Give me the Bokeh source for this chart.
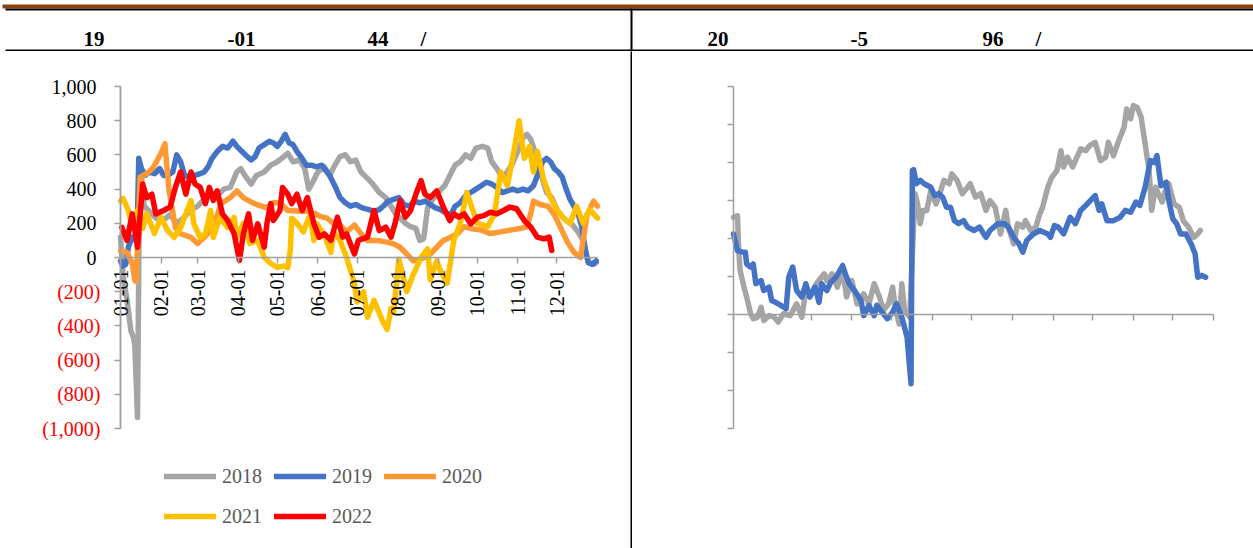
import math
from bokeh.plotting import figure
from bokeh.models import (Range1d, FixedTicker, LinearAxis, NumeralTickFormatter,
                          CustomJSTickFormatter, Legend, LegendItem)
from bokeh.layouts import column, row
from bokeh.core.properties import value
from bokeh.embed import file_html
from bokeh.resources import INLINE

FONT = "Liberation Serif"
AXIS_COLOR = "#A0A0A0"

# ---------------- header texts ----------------
HEADER_TEXT = ["19", "-01", "44", "/", "20", "-5", "96", "/"]
HEADER_X = [83, 227, 367, 420, 707, 850, 982, 1035]

# ---------------- left chart data (day of year, value) ----------------
MONTH_TICKS = [0, 31, 59, 90, 120, 151, 181, 212, 243, 273, 304, 334]
MONTH_LABELS = ["01-01", "02-01", "03-01", "04-01", "05-01", "06-01",
                "07-01", "08-01", "09-01", "10-01", "11-01", "12-01"]
Y_POS_TICKS = [0, 200, 400, 600, 800, 1000]
Y_NEG_TICKS = [-200, -400, -600, -800, -1000]

SERIES_NAMES = ["2018", "2019", "2020", "2021", "2022"]

D2018 = [0, 2, 5, 8, 10, 11, 13, 14.5, 16, 18, 22, 27, 33, 38, 43, 48, 54, 59, 64, 69, 74, 79, 84, 89, 92, 96, 100,
         104, 110, 115, 120, 125, 128, 132, 137, 141, 144, 147, 151, 156, 160, 164, 168, 172, 176, 180, 184, 188,
         193, 198, 203, 207, 211, 214, 218, 222, 226, 229, 232, 235, 238, 243, 248, 252, 256, 260, 264, 268, 272,
         277, 281, 284, 288, 292, 296, 300, 304, 308, 311, 314, 318, 322, 326, 330, 334, 338, 342, 346, 350, 354,
         358, 362, 364]
V2018 = [120, -110, -250, -430, -470, -520, -935, 400, 480, 300, 270, 230, 220, 250, 200, 230, 280, 300, 340, 380,
         360, 400, 410, 500, 520, 470, 430, 480, 500, 540, 560, 590, 610, 560, 570, 520, 400, 440, 500, 530, 480,
         540, 590, 600, 560, 570, 500, 470, 430, 380, 350, 300, 250, 230, 200, 180, 170, 100, 110, 290, 330, 380,
         420, 480, 540, 560, 600, 580, 640, 650, 640, 560, 520, 470, 500, 550, 620, 700, 720, 690, 600, 480, 380,
         350, 280, 240, 210, 190, 150, 100, -30, -40, -30]

D2019 = [0, 2, 4, 6, 9, 12, 13, 14, 16, 19, 22, 26, 30, 33, 36, 40, 43, 46, 49, 53, 57, 61, 64, 67, 70, 74, 78, 82,
         86, 89, 93, 97, 100, 103, 106, 110, 114, 117, 120, 123, 126, 129, 132, 135, 139, 142, 146, 150, 154, 157,
         160, 164, 168, 172, 176, 180, 185, 190, 194, 198, 201, 205, 209, 213, 217, 221, 225, 229, 233, 237, 241,
         245, 249, 253, 256, 260, 264, 268, 272, 276, 280, 284, 288, 292, 296, 300, 304, 308, 312, 316, 320, 323,
         326, 329, 332, 335, 338, 341, 344, 347, 350, 353, 356, 358, 361, 364]
V2019 = [-20, -50, -40, 60, 120, 100, 250, 580, 520, 480, 500, 490, 520, 480, 480, 500, 600, 560, 480, 470, 480,
         490, 500, 530, 580, 620, 650, 640, 680, 650, 620, 590, 570, 590, 640, 660, 680, 670, 650, 680, 720, 670,
         660, 620, 580, 540, 540, 530, 540, 510, 480, 420, 350, 320, 300, 310, 290, 280, 270, 280, 300, 330, 340,
         350, 310, 300, 330, 320, 330, 310, 290, 280, 260, 250, 300, 320, 360, 380, 400, 420, 440, 430, 410, 380,
         390, 400, 390, 400, 390, 420, 500, 560, 580, 560, 520, 500, 470, 400, 340, 300, 260, 180, 30, -30, -40,
         -20]

D2020 = [0, 5, 9, 11, 12, 15, 20, 25, 31, 34, 37, 42, 46, 54, 59, 64, 71, 77, 84, 89, 94, 102, 112, 117, 122, 128,
         138, 143, 148, 153, 158, 163, 168, 173, 179, 184, 189, 196, 204, 209, 214, 219, 224, 230, 237, 242, 247,
         253, 258, 263, 268, 276, 283, 291, 298, 306, 311, 314, 316, 321, 327, 332, 337, 342, 347, 352, 357, 362,
         365]
V2020 = [40, 30, -35, -135, -140, 470, 490, 525, 610, 665, 400, 175, 140, 117, 82, 117, 175, 316, 350, 390, 350,
         316, 290, 320, 320, 275, 270, 270, 260, 240, 230, 200, 190, 150, 190, 140, 100, 100, 90, 80, 60, 20, -20,
         -10, 20, 60, 100, 120, 140, 180, 170, 160, 140, 150, 160, 170, 180, 260, 330, 310, 300, 250, 170, 90, 30,
         0, 250, 330, 300]

D2021 = [0, 2, 6, 9, 13, 17, 20, 26, 31, 36, 41, 46, 51, 54, 56, 61, 65, 69, 71, 76, 82, 87, 89, 94, 99, 105, 110,
         115, 120, 125, 128, 130, 131, 135, 140, 145, 148, 150, 156, 161, 163, 168, 173, 179, 181, 186, 189, 194,
         201, 204, 207, 209, 213, 219, 224, 230, 235, 237, 242, 245, 250, 255, 260, 265, 273, 281, 286, 291, 296,
         301, 305, 309, 313, 316, 319, 324, 329, 334, 339, 344, 349, 354, 359, 365]
V2021 = [330, 345, 275, 175, 275, 170, 257, 140, 234, 158, 117, 175, 275, 333, 200, 117, 140, 275, 117, 234, 175,
         234, 117, 200, 82, 100, 0, -35, -58, -50, -60, 50, 230, 200, 150, 250, 100, 200, 130, 30, 150, 100, 0,
         -150, -260, -200, -350, -250, -380, -420, -300, -320, -10, -200, -100, 0, 50, -130, -20, -80, -150, 100,
         200, 380, 200, 180, 250, 500, 420, 620, 800, 580, 650, 500, 620, 450, 350, 280, 230, 200, 300, 200, 280,
         230]

D2022 = [1, 5, 9, 13, 17, 20, 24, 27, 33, 38, 42, 46, 50, 54, 57, 61, 65, 68, 71, 74, 78, 82, 87, 91, 94, 98, 101,
         105, 110, 112, 115, 117, 122, 124, 128, 131, 135, 139, 143, 148, 152, 156, 161, 166, 170, 173, 179, 182,
         189, 194, 198, 203, 207, 210, 214, 218, 222, 226, 230, 233, 237, 242, 247, 252, 255, 259, 263, 268, 273,
         278, 283, 288, 293, 298, 303, 309, 314, 319, 324, 328, 330]
V2022 = [177, 100, 255, 60, 430, 350, 370, 255, 275, 295, 410, 500, 370, 500, 430, 410, 315, 410, 333, 390, 255,
         216, 138, -18, 138, 255, 100, 197, 60, 197, 315, 216, 275, 410, 370, 315, 370, 275, 350, 197, 119, 138,
         100, 236, 119, 138, 21, 100, 119, 275, 158, 177, 119, 197, 333, 236, 275, 370, 450, 370, 350, 390, 295,
         216, 255, 236, 255, 197, 236, 245, 265, 255, 275, 295, 285, 216, 177, 119, 109, 119, 41]

# ---------------- right chart data ----------------
R_X_TICKS = [0, 59, 90, 120, 151, 181, 212, 243, 273, 304, 334, 365]
R_Y_TICKS = [-300, -200, -100, 0, 100, 200, 300, 400, 500, 600]

R_GRAY_D = [0, 3, 4, 5, 8, 10, 13, 15, 18, 21, 23, 27, 31, 34, 38, 43, 48, 52, 55, 58, 63, 69, 71, 75, 79, 83, 86,
            90, 94, 99, 103, 107, 111, 114, 118, 121, 123, 126, 128, 130, 134, 138, 140, 142, 144, 147, 150, 154,
            156, 160, 164, 166, 170, 174, 178, 180, 184, 188, 192, 195, 199, 203, 207, 209, 213, 216, 220, 222,
            226, 230, 232, 235, 239, 242, 246, 249, 251, 254, 258, 260, 264, 268, 271, 275, 279, 283, 285, 289,
            293, 297, 299, 302, 304, 307, 310, 313, 316, 318, 321, 323, 326, 329, 331, 335, 339, 342, 346, 350,
            353, 355]
R_GRAY_V = [256, 260, 168, 116, 72, 46, 2, -11, -8, 19, -16, -3, -7, -20, 2, -3, 28, -7, 63, 46, 81, 107, 89, 107,
            72, 116, 46, 89, 28, 54, 28, 81, 46, 11, 28, 72, 19, -25, 81, 11, -7, 318, 291, 239, 274, 274, 326, 291,
            309, 353, 344, 370, 353, 318, 335, 344, 309, 318, 274, 300, 282, 212, 274, 230, 186, 239, 230, 247,
            221, 230, 256, 282, 335, 361, 379, 431, 388, 414, 388, 405, 436, 431, 445, 453, 405, 414, 453, 418,
            458, 493, 541, 515, 550, 545, 519, 449, 379, 274, 335, 318, 296, 335, 344, 291, 282, 247, 230, 203,
            212, 221]

R_BLUE_D = [0, 3, 7, 9, 10, 13, 15, 17, 21, 23, 27, 29, 32, 36, 40, 42, 45, 48, 52, 55, 58, 62, 65, 67, 71, 74, 78,
            83, 85, 88, 92, 97, 99, 103, 107, 109, 113, 117, 121, 124, 128, 132, 135, 136, 137, 139, 142, 145, 150,
            153, 156, 159, 162, 165, 168, 171, 175, 178, 183, 187, 192, 195, 201, 206, 209, 213, 217, 220, 223,
            228, 233, 239, 241, 244, 247, 251, 256, 260, 264, 269, 275, 278, 280, 284, 289, 294, 298, 302, 306,
            309, 313, 317, 320, 322, 325, 329, 331, 334, 337, 340, 344, 348, 351, 353, 356, 359]
R_BLUE_V = [212, 168, 164, 164, 133, 125, 133, 81, 89, 63, 72, 37, 32, 24, 15, 98, 125, 63, 46, 81, 46, 72, 32, 81,
            63, 85, 98, 129, 107, 81, 63, 37, -3, 24, -3, 24, 6, -11, 6, 28, -7, -60, -182, 379, 381, 344, 353, 344,
            335, 313, 318, 309, 282, 282, 247, 239, 247, 230, 221, 230, 203, 221, 239, 239, 230, 203, 186, 164, 195,
            212, 221, 212, 203, 234, 230, 212, 256, 239, 274, 291, 313, 274, 291, 247, 247, 256, 274, 269, 296, 287,
            335, 405, 400, 418, 339, 348, 300, 252, 239, 212, 212, 186, 160, 98, 103, 98]

COLORS = ["#A5A5A5", "#4472C4", "#FF9933", "#FFC000", "#FF0000"]
LINE_W = 5.5

# ---------------- layout geometry (page pixels) ----------------
PAGE_W, PAGE_H = 1253, 548
HDR_H = 51
BODY_H = PAGE_H - HDR_H
DIV_X = 630
L_W = DIV_X
R_W = PAGE_W - DIV_X - 2
L_FRAME = (120, 597, 86, 428)   # left, right, top, bottom of the axes box (page px)
R_FRAME = (733, 1213, 86, 428)


def ranges(frame, fig_left, fig_w, x0, x1, y0, y1):
    left, right, top, bottom = frame
    pxx = (right - left) / (x1 - x0)
    pxy = (bottom - top) / (y1 - y0)
    xr = Range1d(x0 - (left - fig_left) / pxx, x1 + (fig_left + fig_w - right) / pxx)
    yr = Range1d(y0 - (PAGE_H - bottom) / pxy, y1 + (top - HDR_H) / pxy)
    return xr, yr


def style_axis(ax):
    ax.axis_line_color = AXIS_COLOR
    ax.axis_line_width = 1.5
    ax.major_tick_line_color = AXIS_COLOR
    ax.major_tick_line_width = 1.5
    ax.major_tick_in = 0
    ax.major_tick_out = 6
    ax.minor_tick_line_color = None
    ax.major_label_text_font = FONT
    ax.major_label_text_font_size = "20px"
    ax.major_label_text_color = "black"


# ---------------- header ----------------
hdr = figure(width=PAGE_W, height=HDR_H, x_range=Range1d(0, PAGE_W), y_range=Range1d(HDR_H, 0),
             x_axis_type=None, y_axis_type=None, output_backend="svg", toolbar_location=None,
             min_border=0, outline_line_color=None)
hdr.quad(left=[2], right=[PAGE_W], top=[4], bottom=[8], fill_color="#8B4010", line_color=None)
hdr.quad(left=[5], right=[PAGE_W], top=[8], bottom=[10], fill_color="black", line_color=None)
hdr.quad(left=[5], right=[PAGE_W], top=[49], bottom=[51], fill_color="black", line_color=None)
hdr.quad(left=[DIV_X], right=[DIV_X + 2], top=[8], bottom=[HDR_H], fill_color="black", line_color=None)
hdr.text(x=HEADER_X, y=[38] * len(HEADER_X), text=HEADER_TEXT, text_font=value(FONT),
         text_font_style="bold", text_font_size="21px", text_baseline="alphabetic", text_color="black")

# ---------------- left chart ----------------
xr1, yr1 = ranges(L_FRAME, 0, L_W, 0, 365, -1000, 1000)
p1 = figure(width=L_W, height=BODY_H, x_range=xr1, y_range=yr1,
            output_backend="svg", toolbar_location=None, min_border=0, outline_line_color=None)
p1.grid.visible = False

xa = p1.xaxis[0]
style_axis(xa)
xa.fixed_location = 0
xa.bounds = (0, 365)
xa.ticker = FixedTicker(ticks=MONTH_TICKS)
xa.major_label_overrides = {d: lab for d, lab in zip(MONTH_TICKS, MONTH_LABELS)}
xa.major_label_orientation = math.pi / 2
xa.major_label_standoff = 6

ya = p1.yaxis[0]
style_axis(ya)
ya.fixed_location = 0
ya.bounds = (-1000, 1000)
ya.ticker = FixedTicker(ticks=Y_POS_TICKS)
ya.formatter = NumeralTickFormatter(format="0,0")
ya.major_label_standoff = 18

ya2 = LinearAxis(fixed_location=0, bounds=(-1000, 1000), ticker=FixedTicker(ticks=Y_NEG_TICKS),
                 formatter=NumeralTickFormatter(format="(0,0)"))
style_axis(ya2)
ya2.major_label_text_color = "#FF0000"
ya2.major_label_standoff = 14
p1.add_layout(ya2, "left")

series = [(D2018, V2018), (D2019, V2019), (D2020, V2020), (D2021, V2021), (D2022, V2022)]
items = []
for (d, v), name, c in zip(series, SERIES_NAMES, COLORS):
    r = p1.line(d, v, line_color=c, line_width=LINE_W, line_join="round", line_cap="round")
    items.append(LegendItem(label=name, renderers=[r]))

leg = Legend(items=items, location=(164, 18), orientation="horizontal", ncols=3,
             glyph_width=52, glyph_height=28, label_height=28, label_standoff=6, spacing=12,
             padding=0, margin=0, border_line_color=None, background_fill_alpha=0,
             label_text_font=FONT, label_text_font_size="20px", label_text_color="#595959")
p1.add_layout(leg, "center")

# ---------------- divider ----------------
div = figure(width=2, height=BODY_H, x_axis_type=None, y_axis_type=None, min_border=0,
             background_fill_color="black", border_fill_color="black", outline_line_color=None,
             toolbar_location=None, output_backend="svg")

# ---------------- right chart ----------------
xr2, yr2 = ranges(R_FRAME, DIV_X + 2, R_W, 0, 365, -300, 600)
p2 = figure(width=R_W, height=BODY_H, x_range=xr2, y_range=yr2,
            output_backend="svg", toolbar_location=None, min_border=0, outline_line_color=None)
p2.grid.visible = False
xb = p2.xaxis[0]
style_axis(xb)
xb.fixed_location = 0
xb.bounds = (0, 365)
xb.ticker = FixedTicker(ticks=R_X_TICKS)
xb.formatter = CustomJSTickFormatter(code="return ''")
yb = p2.yaxis[0]
style_axis(yb)
yb.fixed_location = 0
yb.bounds = (-300, 600)
yb.ticker = FixedTicker(ticks=R_Y_TICKS)
yb.formatter = CustomJSTickFormatter(code="return ''")

p2.line(R_GRAY_D, R_GRAY_V, line_color=COLORS[0], line_width=LINE_W, line_join="round", line_cap="round")
p2.line(R_BLUE_D, R_BLUE_V, line_color=COLORS[1], line_width=LINE_W, line_join="round", line_cap="round")

layout = column(hdr, row(p1, div, p2))
open("out.html", "w").write(file_html(layout, INLINE))
